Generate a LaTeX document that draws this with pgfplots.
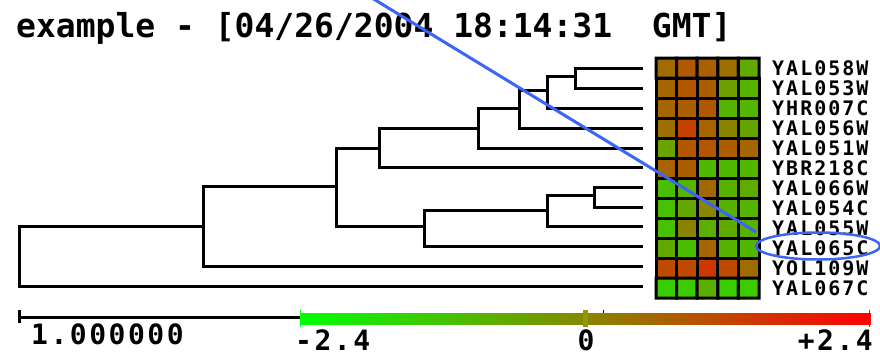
\documentclass[border=0pt]{standalone}
\usepackage{pgfplots}
\pgfplotsset{compat=1.18}
\usepackage{pgfplotstable}
\usepackage{fontspec}
\newfontfamily\pix{DejaVu Sans Mono}
\newfontfamily\pixs{DejaVu Sans Mono}[LetterSpace=10]
\newfontfamily\pixb{DejaVu Sans Mono}[LetterSpace=9]
\definecolor{blueann}{RGB}{60,100,245}
\definecolor{olivemark}{RGB}{150,150,0}

\pgfplotstableread{
x y v
666.3 68 0.5
686.9 68 0.8
707.5 68 0.7
728.1 68 0.45
748.7 68 -0.7
666.3 88 0.6
686.9 88 0.85
707.5 88 0.75
728.1 88 -0.5
748.7 88 -0.9
666.3 108 0.6
686.9 108 0.75
707.5 108 0.85
728.1 108 -0.9
748.7 108 -0.95
666.3 128 0.45
686.9 128 1.25
707.5 128 0.65
728.1 128 0.05
748.7 128 -0.6
666.3 148 -0.55
686.9 148 0.85
707.5 148 0.85
728.1 148 0.75
748.7 148 0.6
666.3 168 0.65
686.9 168 0.75
707.5 168 -1.0
728.1 168 -1.0
748.7 168 -0.95
666.3 188 -1.1
686.9 188 -0.9
707.5 188 0.55
728.1 188 -0.85
748.7 188 -0.75
666.3 208 -1.15
686.9 208 -0.65
707.5 208 0.0
728.1 208 -0.85
748.7 208 -0.9
666.3 228 -1.15
686.9 228 0.05
707.5 228 -0.8
728.1 228 -0.7
748.7 228 -0.85
666.3 248 -0.65
686.9 248 -1.1
707.5 248 0.6
728.1 248 -0.85
748.7 248 -0.95
666.3 268 1.1
686.9 268 1.1
707.5 268 1.4
728.1 268 1.1
748.7 268 0.5
666.3 288 -1.4
686.9 288 -1.35
707.5 288 -0.8
728.1 288 -1.4
748.7 288 -1.35
}\heat

\begin{document}
\begin{tikzpicture}
\begin{axis}[name=main, width=880pt, height=356pt, scale only axis,
  xmin=0, xmax=880, ymin=0, ymax=356, y dir=reverse, hide axis, clip=false,
  colormap={tv}{rgb255=(0,255,0) rgb255=(135,135,0) rgb255=(255,0,0)},
  point meta min=-2.4, point meta max=2.4]

% dendrogram
\pgfplotsset{every axis plot/.append style={line join=miter}}
\addplot[black, line width=3pt] coordinates {(643,68)(575,68)(575,88)(643,88)};
\addplot[black, line width=3pt] coordinates {(575,76.7)(547,76.7)(547,108.7)(643,108.7)};
\addplot[black, line width=3pt] coordinates {(547,90)(519,90)(519,128.7)(643,128.7)};
\addplot[black, line width=3pt] coordinates {(519,108.7)(478,108.7)(478,148.7)(643,148.7)};
\addplot[black, line width=3pt] coordinates {(478,128.7)(379,128.7)(379,167.3)(643,167.3)};
\addplot[black, line width=3pt] coordinates {(643,187.3)(594,187.3)(594,207.3)(643,207.3)};
\addplot[black, line width=3pt] coordinates {(594,195.7)(547,195.7)(547,226.7)(643,226.7)};
\addplot[black, line width=3pt] coordinates {(547,210.7)(424,210.7)(424,246.7)(643,246.7)};
\addplot[black, line width=3pt] coordinates {(379,148.7)(336,148.7)(336,226.7)(424,226.7)};
\addplot[black, line width=3pt] coordinates {(336,186.7)(203,186.7)(203,266.7)(643,266.7)};
\addplot[black, line width=3pt] coordinates {(203,226.7)(19,226.7)(19,286.5)(643,286.5)};

% heatmap
\addplot[matrix plot*, mesh/cols=5, mesh/rows=12, point meta=explicit,
  draw=black, line width=3pt] table[x=x, y=y, meta=v] {\heat};

% colour bar
\addplot[patch, shader=interp, point meta=explicit] coordinates {
 (300,312.7) [-2.4] (585,312.7) [0] (585,324) [0]
 (300,312.7) [-2.4] (585,324) [0] (300,324) [-2.4]
 (585,312.7) [0] (870,312.7) [2.4] (870,324) [2.4]
 (585,312.7) [0] (870,324) [2.4] (585,324) [0]};
\addplot[color={rgb,255:red,0;green,255;blue,0}, line width=1.5pt] coordinates {(300.5,310)(300.5,327)};
\addplot[color={rgb,255:red,255;green,0;blue,0}, line width=1.5pt] coordinates {(869.5,310)(869.5,327)};
\addplot[olivemark, line width=5pt] coordinates {(585,310)(585,326.5)};
\addplot[black, line width=1pt] coordinates {(603,309.5)(603,313)};

% scale bar
\addplot[black, line width=3pt] coordinates {(19,317.3)(300,317.3)};
\addplot[black, line width=2.5pt] coordinates {(19.5,310)(19.5,323)};

% texts
\node[anchor=base west, inner sep=0, font=\pix\bfseries\fontsize{33}{33}\selectfont] at (axis cs:16,37) {example - [04/26/2004 18:14:31\ \ GMT]};
\foreach \lab [count=\i from 0] in {YAL058W,YAL053W,YHR007C,YAL056W,YAL051W,YBR218C,YAL066W,YAL054C,YAL055W,YAL065C,YOL109W,YAL067C} {
  \edef\tmp{\noexpand\node[anchor=base west, inner sep=0, font=\noexpand\pixs\noexpand\bfseries\noexpand\fontsize{20}{20}\noexpand\selectfont] at (axis cs:772,{68+20*\i+7.5}) {\lab};}
  \tmp
}
\node[anchor=base west, inner sep=0, font=\pixb\bfseries\fontsize{28}{28}\selectfont] at (axis cs:31,344) {1.000000};
\node[anchor=base west, inner sep=0, font=\pixb\bfseries\fontsize{28}{28}\selectfont] at (axis cs:295,350) {-2.4};
\node[anchor=base, inner sep=0, font=\pixb\bfseries\fontsize{28}{28}\selectfont] at (axis cs:586,350) {0};
\node[anchor=base east, inner sep=0, font=\pixb\bfseries\fontsize{28}{28}\selectfont] at (axis cs:873,350) {+2.4};

% annotation
\addplot[blueann, line width=3pt] coordinates {(372,-2)(756,232)};
\draw[blueann, line width=2.5pt] (axis cs:818,246) ellipse [x radius=62pt, y radius=13.5pt];
\end{axis}
\pgfresetboundingbox
\path[use as bounding box] (main.south west) rectangle (main.north east);
\end{tikzpicture}
\end{document}
